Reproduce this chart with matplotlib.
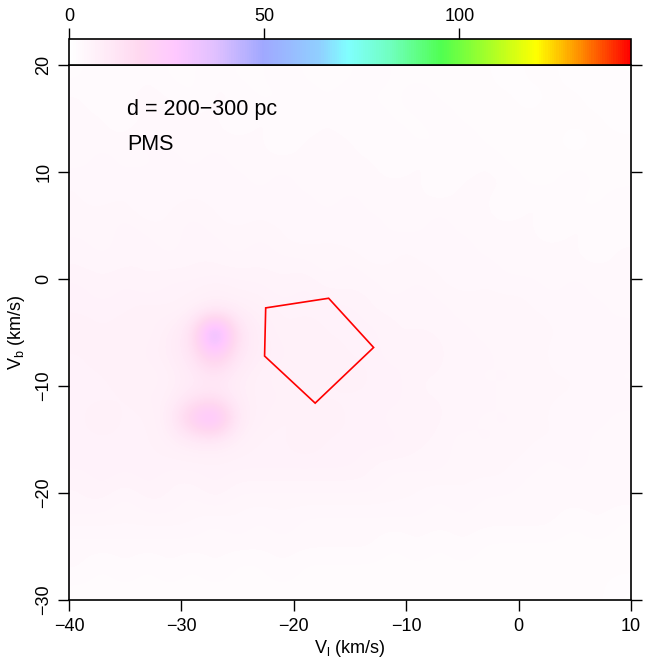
import numpy as np
import matplotlib
matplotlib.use("Agg")
import matplotlib.pyplot as plt
from matplotlib.colors import LinearSegmentedColormap

plt.rcParams['font.family'] = ['Liberation Sans', 'DejaVu Sans']

# grid cell centres (km/s)
vl_centers = [-39, -37, -35, -33, -31, -29, -27, -25, -23, -21, -19, -17, -15,
              -13, -11, -9, -7, -5, -3, -1, 1, 3, 5, 7, 9]
vb_centers = [19, 17, 15, 13, 11, 9, 7, 5, 3, 1, -1, -3, -5, -7, -9, -11, -13,
              -15, -17, -19, -21, -23, -25, -27, -29]

# density (rows top -> bottom)
density = [
    [2, 3, 2, 3, 2, 2, 3, 2, 2, 3, 2, 2, 2, 3, 2, 2, 2, 2, 2, 1, 2, 2, 1, 2, 1],
    [3, 2, 3, 3, 3, 2, 3, 3, 2, 2, 3, 2, 3, 2, 2, 3, 2, 2, 2, 2, 1, 2, 2, 1, 2],
    [3, 3, 2, 3, 3, 3, 3, 2, 3, 3, 2, 3, 2, 3, 2, 2, 3, 2, 2, 2, 2, 2, 2, 2, 1],
    [3, 3, 3, 4, 3, 3, 3, 3, 3, 2, 3, 3, 3, 2, 3, 2, 2, 3, 2, 2, 2, 2, 1, 2, 2],
    [3, 4, 3, 3, 4, 3, 4, 3, 3, 3, 3, 3, 3, 3, 2, 3, 3, 2, 3, 2, 2, 2, 2, 2, 2],
    [4, 3, 4, 4, 3, 4, 3, 4, 3, 4, 3, 3, 3, 3, 3, 3, 2, 3, 3, 3, 2, 2, 3, 2, 2],
    [4, 4, 4, 3, 4, 4, 4, 3, 4, 3, 4, 3, 4, 3, 3, 3, 3, 3, 3, 2, 3, 3, 2, 2, 3],
    [4, 4, 5, 4, 4, 5, 4, 4, 4, 4, 3, 4, 3, 4, 3, 3, 4, 3, 3, 3, 3, 2, 3, 3, 2],
    [5, 4, 5, 5, 4, 5, 5, 4, 5, 4, 4, 4, 4, 3, 4, 4, 3, 4, 3, 3, 3, 3, 3, 2, 3],
    [5, 5, 5, 5, 5, 5, 5, 5, 5, 5, 5, 4, 5, 4, 4, 4, 4, 3, 4, 3, 3, 3, 3, 3, 3],
    [6, 5, 6, 5, 6, 6, 7, 6, 6, 5, 6, 5, 5, 5, 4, 5, 4, 4, 4, 4, 4, 3, 4, 3, 3],
    [6, 6, 6, 7, 6, 7, 9, 8, 7, 6, 6, 6, 6, 5, 5, 5, 5, 4, 4, 4, 4, 4, 3, 4, 3],
    [7, 6, 7, 6, 8, 12, 50, 12, 8, 6, 7, 6, 6, 6, 5, 5, 5, 5, 4, 4, 4, 4, 4, 3, 4],
    [6, 7, 6, 7, 8, 12, 28, 11, 8, 7, 6, 7, 6, 6, 5, 6, 5, 5, 5, 4, 4, 4, 3, 4, 4],
    [6, 6, 7, 6, 7, 9, 12, 8, 7, 6, 7, 6, 7, 6, 6, 5, 5, 5, 4, 5, 4, 4, 4, 4, 3],
    [6, 6, 6, 7, 7, 11, 12, 8, 7, 7, 6, 6, 6, 6, 6, 5, 5, 5, 5, 4, 4, 4, 4, 3, 4],
    [6, 7, 6, 6, 8, 26, 36, 9, 7, 6, 6, 7, 6, 6, 5, 6, 5, 5, 4, 5, 4, 4, 3, 4, 3],
    [6, 6, 6, 6, 7, 9, 10, 7, 6, 6, 7, 6, 6, 6, 6, 5, 5, 4, 5, 4, 4, 4, 4, 3, 3],
    [6, 6, 6, 6, 6, 6, 6, 6, 6, 6, 6, 6, 6, 5, 5, 5, 5, 4, 4, 4, 4, 3, 4, 3, 3],
    [5, 6, 5, 6, 5, 5, 6, 5, 5, 5, 5, 5, 5, 5, 4, 4, 4, 4, 4, 4, 3, 3, 3, 3, 3],
    [5, 5, 4, 5, 5, 4, 5, 4, 4, 4, 4, 4, 4, 4, 4, 4, 3, 4, 3, 3, 3, 3, 3, 3, 3],
    [4, 4, 4, 4, 4, 4, 3, 4, 3, 4, 3, 3, 3, 3, 3, 3, 3, 3, 3, 3, 3, 3, 2, 3, 2],
    [3, 3, 3, 3, 3, 3, 3, 3, 3, 3, 3, 3, 3, 3, 2, 3, 2, 3, 2, 2, 2, 2, 2, 2, 2],
    [3, 2, 3, 2, 3, 2, 3, 2, 2, 3, 2, 2, 2, 2, 2, 2, 2, 2, 2, 2, 2, 2, 2, 2, 2],
    [2, 2, 2, 2, 2, 2, 2, 2, 2, 2, 2, 2, 2, 2, 2, 2, 2, 2, 2, 2, 2, 2, 2, 2, 1],
]

# red polygon vertices (km/s)
poly_vl = [-22.5, -16.9, -12.9, -18.1, -22.6]
poly_vb = [-2.7, -1.8, -6.4, -11.6, -7.2]

cbar_ticks = [0, 50, 100]
cbar_max = 144
x_ticks = [-40, -30, -20, -10, 0, 10]
y_ticks = [-30, -20, -10, 0, 10, 20]

cmap = LinearSegmentedColormap.from_list("dens", [
    (0.0, "#ffffff"), (0.125, "#ffd8f0"), (0.187, "#ffc8ff"), (0.26, "#e0c0ff"),
    (0.345, "#a0a8ff"), (0.447, "#90d0ff"), (0.496, "#80ffff"), (0.571, "#70ffc0"),
    (0.664, "#50ff50"), (0.833, "#ffff00"), (0.909, "#ff9000"), (1.0, "#ff0000")])
cmap.set_under("#ffffff")

W, H = 646, 666
fig = plt.figure(figsize=(W / 100, H / 100), dpi=100)
ax = fig.add_axes([69 / W, 1 - 600 / H, (631 - 69) / W, (600 - 65) / H])
cax = fig.add_axes([69 / W, 1 - 65 / H, (631 - 69) / W, 26 / H])

dx = (vl_centers[1] - vl_centers[0]) / 2
dy = (vb_centers[0] - vb_centers[1]) / 2
extent = [vl_centers[0] - dx, vl_centers[-1] + dx, vb_centers[-1] - dy, vb_centers[0] + dy]
im = ax.imshow(np.array(density, dtype=float), cmap=cmap, vmin=0, vmax=cbar_max,
               extent=extent, origin="upper", aspect="auto", interpolation="bicubic")

ax.fill(poly_vl, poly_vb, facecolor="none", edgecolor="red", linewidth=1.2)

ax.set_xlim(-40, 10)
ax.set_ylim(-30, 20)
ax.set_xticks(x_ticks)
ax.set_yticks(y_ticks)
ax.set_xticklabels([f"{t}".replace("-", "\u2212") for t in x_ticks])
ax.set_yticklabels([f"{t}".replace("-", "\u2212") for t in y_ticks], rotation=90, va="center")
ax.tick_params(axis="both", direction="out", length=8, width=1, labelsize=13, pad=3)
ax.tick_params(axis="y", right=True, pad=4)
ax.tick_params(axis="x", pad=5)
for s in ax.spines.values():
    s.set_linewidth(1.2)
ax.set_xlabel("V$_\\mathregular{l}$ (km/s)", fontsize=13, labelpad=2)
ax.set_ylabel("V$_\\mathregular{b}$ (km/s)", fontsize=13, labelpad=6)

ax.text(-34.8, 15.8, "d = 200\u2212300 pc", fontsize=15.5, va="center", ha="left")
ax.text(-34.8, 12.6, "PMS", fontsize=15.5, va="center", ha="left")

cb = fig.colorbar(im, cax=cax, orientation="horizontal")
cb.set_ticks(cbar_ticks)
cax.xaxis.set_ticks_position("top")
cax.tick_params(axis="x", direction="out", length=8, width=1, labelsize=13, pad=2)
cb.outline.set_linewidth(1.2)

fig.savefig("out.png", dpi=100)
